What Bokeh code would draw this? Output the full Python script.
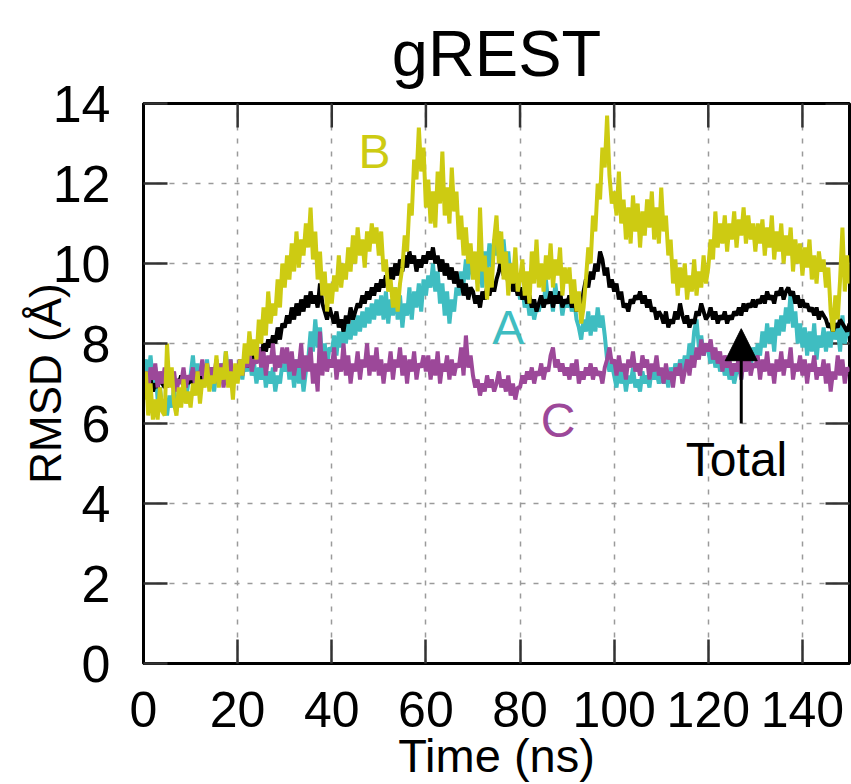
from bokeh.plotting import figure
from bokeh.models import Range1d, FixedTicker, Label, Arrow, NormalHead
from bokeh.embed import file_html
from bokeh.resources import INLINE

# time grid (ns), 0.5 ns sampling
time_ns = [i * 0.5 for i in range(301)]

x_ticks = [0, 20, 40, 60, 80, 100, 120, 140]
y_ticks = [0, 2, 4, 6, 8, 10, 12, 14]

# Chain B (yellow)
rmsd_B = (
    [6.6,7.3,6.2,7.0,6.1,6.6,6.1,6.9,6.3,6.2, 8.0,6.9,7.4,6.5,6.2,6.9,6.4,7.1,6.5,6.8] +
    [6.4,7.0,6.7,7.3,6.5,7.1,6.9,7.5,6.8,7.2, 7.0,7.7,6.9,7.4,7.1,7.8,6.9,7.3,6.6,7.5] +
    [7.0,7.6,7.2,8.0,7.5,8.3,7.7,8.1,7.6,8.6, 8.0,8.9,8.2,9.3,8.5,9.0,8.7,9.6,8.9,10.0] +
    [9.4,10.2,9.6,10.5,9.8,10.8,9.9,10.6,10.2,11.0, 10.4,11.4,10.1,10.8,9.6,10.3,9.2,9.8,8.8,9.5] +
    [9.0,9.7,9.3,10.2,9.4,10.0,9.6,10.4,9.8,10.7, 10.0,10.9,10.2,10.6,9.9,10.8,10.3,11.0,10.5,10.9] +
    [10.2,10.8,9.8,10.1,9.3,9.6,8.9,9.4,8.8,9.5, 9.9,10.7,10.3,11.5,11.2,12.6,12.1,13.4,12.3,12.9] +
    [11.4,12.1,11.0,11.8,10.9,12.3,11.5,12.8,11.2,11.9, 11.0,12.4,11.3,11.8,10.6,11.2,10.2,10.9,10.0,10.5] +
    [9.6,10.3,9.3,11.4,9.8,10.2,9.1,9.9,9.4,10.6, 11.2,10.0,10.8,9.6,10.3,9.2,10.0,9.5,10.4,9.3] +
    [9.6,10.1,9.2,9.8,9.0,10.3,9.5,10.6,9.4,10.0, 9.3,10.2,9.6,10.5,9.4,10.1,9.7,10.4,9.2,9.9] +
    [9.5,9.9,9.0,9.6,8.8,9.3,8.5,8.9,9.6,10.4, 10.0,11.2,10.8,12.0,11.6,12.9,12.4,13.7,12.2,11.5] +
    [11.8,11.2,12.3,11.0,11.6,10.6,11.4,10.5,11.7,10.8, 11.5,10.4,11.3,10.7,11.6,10.9,11.8,10.6,11.4,10.5] +
    [11.9,10.8,11.2,10.2,10.6,9.5,10.1,9.2,9.9,9.4, 10.0,9.1,9.7,9.3,10.1,9.2,9.8,9.4,10.2,9.5] +
    [9.9,10.6,10.1,11.3,10.4,11.0,10.5,11.2,10.3,11.0, 10.6,11.3,10.4,11.1,10.7,11.4,10.5,11.2,10.6,11.0] +
    [10.3,11.0,10.5,11.1,10.2,10.9,10.4,11.2,10.1,10.8, 10.3,11.0,10.0,10.7,10.2,10.9,9.8,10.6,10.0,10.5] +
    [9.7,10.4,9.9,10.6,9.6,10.2,9.5,10.3,9.8,10.1, 9.4,9.9,8.8,8.3,9.2,8.6,9.6,10.9,9.3,10.2, 9.5]
)

# Total (black)
rmsd_total = (
    [7.0,7.2,6.9,7.1,6.8,7.0,6.9,7.2,7.0,6.9, 7.1,7.0,7.2,6.9,7.1,7.0,7.2,6.9,7.1,7.0] +
    [7.1,7.0,7.2,7.1,7.3,7.0,7.2,7.1,7.3,7.2, 7.1,7.3,7.2,7.4,7.2,7.3,7.1,7.4,7.2,7.3] +
    [7.3,7.5,7.4,7.6,7.4,7.7,7.5,7.8,7.6,7.9, 7.7,8.0,7.8,8.1,7.9,8.2,8.0,8.4,8.1,8.5] +
    [8.4,8.7,8.5,8.9,8.6,9.0,8.7,9.1,8.8,9.2, 8.9,9.3,9.0,9.2,8.9,9.5,9.0,8.8,8.6,8.9] +
    [8.7,8.5,8.8,8.4,8.6,8.3,8.7,8.5,8.9,8.6, 8.8,9.0,8.9,9.2,9.0,9.3,9.1,9.4,9.2,9.5] +
    [9.3,9.6,9.4,9.7,9.5,9.9,9.6,10.0,9.7,10.1, 9.8,10.2,9.9,10.3,10.0,10.2,9.8,10.1,9.9,10.2] +
    [10.0,10.3,10.1,10.4,10.0,10.2,9.8,10.1,9.7,10.0, 9.6,9.9,9.5,9.8,9.4,9.6,9.2,9.5,9.1,9.4] +
    [9.3,9.0,9.2,8.9,9.3,9.1,9.4,9.2,9.5,9.3, 9.6,9.8,10.1,9.7,9.9,9.5,9.7,9.3,9.5,9.2] +
    [9.4,9.1,9.3,9.0,9.2,8.9,9.1,8.8,9.0,9.2, 8.9,9.1,9.0,9.3,8.9,9.2,9.0,9.3,8.9,9.1] +
    [9.0,9.2,8.9,9.1,8.8,9.0,8.9,9.3,9.6,9.4, 9.8,9.6,10.0,9.8,10.3,10.1,9.7,9.9,9.4,9.6] +
    [9.3,9.5,9.1,9.3,8.9,9.0,8.8,9.1,9.0,9.2, 9.1,9.3,9.0,9.2,8.9,9.1,8.8,8.9,8.6,8.8] +
    [8.7,8.5,8.8,8.4,8.6,8.5,8.8,8.6,9.0,8.7, 8.5,8.7,8.4,8.6,8.5,8.8,8.7,9.0,8.8,8.6] +
    [8.7,8.9,8.6,8.8,8.5,8.7,8.6,8.8,8.5,8.7, 8.6,8.8,8.7,8.9,8.7,9.0,8.8,9.0,8.9,9.1] +
    [8.9,9.1,9.0,9.2,9.0,9.3,9.1,9.2,9.0,9.3, 9.2,9.4,9.1,9.3,9.4,9.2,9.3,9.0,9.2,8.9] +
    [9.1,8.9,9.0,8.8,8.9,8.7,8.9,8.6,8.8,8.7, 8.6,8.4,8.5,8.3,8.5,8.4,8.6,8.5,8.4,8.3, 8.5]
)

# Chain A (cyan)
rmsd_A = (
    [7.3,7.6,7.2,7.7,7.0,7.4,6.6,6.9,6.3,6.6, 6.2,6.7,6.4,6.9,6.3,6.7,6.5,6.9,6.6,7.0] +
    [7.2,7.7,7.0,7.5,6.9,7.3,7.1,7.6,6.9,7.2, 6.8,7.3,7.0,7.5,7.2,7.8,7.1,7.6,7.0,7.4] +
    [7.2,7.5,7.1,7.6,7.3,7.7,7.2,7.5,7.0,7.4, 7.1,7.5,6.9,7.3,7.0,7.4,6.8,7.2,7.0,7.5] +
    [7.3,7.7,7.1,7.5,6.9,7.6,7.0,7.4,6.8,7.3, 7.6,8.3,7.8,8.6,7.9,8.4,7.5,8.0,7.4,7.9] +
    [7.8,8.2,7.7,8.3,7.9,8.4,8.0,8.5,8.1,8.6, 8.2,8.7,8.3,8.8,8.4,8.9,8.5,9.0,8.6,9.1] +
    [8.7,9.2,8.6,9.3,8.5,9.1,8.7,9.4,8.6,9.2, 8.4,9.0,8.7,9.4,8.6,9.3,8.9,9.5,8.8,9.6] +
    [9.2,9.7,9.4,10.0,9.3,9.8,9.0,9.5,8.7,9.3, 8.5,9.1,8.8,9.4,9.2,9.8,9.5,10.1,9.6,10.3] +
    [9.7,10.2,9.5,10.0,9.4,10.3,9.8,10.5,9.9,10.6, 10.2,10.8,10.4,10.6,9.9,10.3,9.6,9.9,9.3,9.6] +
    [9.1,9.4,8.9,9.2,8.7,9.0,8.6,8.9,8.8,9.2, 8.9,9.6,9.0,9.3,8.8,9.5,9.0,9.2,8.7,9.1] +
    [8.9,9.2,8.8,9.1,8.6,8.4,8.1,8.6,8.3,8.8, 8.2,8.7,8.3,8.9,8.4,8.7,8.2,7.6,7.3,7.5] +
    [7.2,6.9,7.4,7.0,7.3,6.8,7.2,7.0,7.4,6.9, 7.1,6.8,7.3,7.0,7.2,6.9,7.4,7.1,7.3,7.0] +
    [7.2,7.0,7.3,6.9,7.4,7.1,7.5,7.2,7.6,7.3, 7.7,7.4,8.0,7.6,8.3,8.6,7.9,8.2,7.7,8.0] +
    [7.8,7.5,7.9,7.4,7.7,7.3,7.6,7.2,7.5,7.1, 7.4,7.0,7.3,7.5,7.1,7.6,7.3,7.7,7.4,7.9] +
    [7.6,8.0,7.7,8.3,7.9,8.5,8.0,8.4,7.8,8.6, 8.2,8.7,8.3,8.9,8.5,9.3,8.4,8.8,8.0,8.5] +
    [7.9,8.4,7.7,8.3,7.8,8.5,7.6,8.2,7.9,8.4, 7.8,8.3,7.9,8.6,8.1,8.4,7.8,8.7,8.0,8.3, 8.2]
)

# Chain C (magenta)
rmsd_C = (
    [7.0,7.3,6.8,7.4,7.1,7.5,6.9,7.3,7.0,7.4, 6.9,7.2,7.0,7.3,6.8,7.1,7.0,7.4,6.9,7.2] +
    [7.1,7.4,6.9,7.3,7.2,7.6,7.0,7.5,7.1,7.4, 7.2,7.6,7.0,7.5,6.9,7.3,7.1,7.6,7.0,7.4] +
    [7.3,7.6,7.2,7.7,7.4,7.8,7.3,7.6,7.5,7.9, 7.4,7.8,7.2,7.7,7.5,8.0,7.3,7.7,7.4,7.9] +
    [7.5,7.9,7.3,7.8,7.2,7.6,7.4,8.0,7.1,7.7, 7.3,7.9,7.0,7.5,6.8,8.3,7.2,7.8,7.3,7.6] +
    [7.4,7.9,7.1,7.6,7.3,8.0,7.2,7.7,7.0,7.5, 7.3,7.8,7.1,7.6,7.4,8.0,7.2,7.7,7.3,7.9] +
    [7.2,7.6,7.0,7.5,7.3,7.8,7.1,7.6,7.4,7.9, 7.2,7.7,7.0,7.6,7.3,7.8,7.1,7.5,7.4,7.7] +
    [7.3,7.7,7.1,7.6,7.2,7.8,7.0,7.5,7.3,7.7, 7.1,7.6,7.2,7.5,7.4,7.9,7.2,8.2,7.4,7.7] +
    [7.2,6.9,7.1,6.7,7.0,6.8,7.2,6.9,7.1,6.8, 7.0,7.3,6.9,7.1,6.8,7.2,6.7,7.0,6.6,6.9] +
    [6.9,7.2,7.0,7.3,7.1,7.4,7.0,7.3,7.2,7.5, 7.1,7.4,7.3,7.7,7.9,7.4,7.6,7.3,7.5,7.2] +
    [7.4,7.1,7.5,7.2,7.6,7.0,7.3,7.1,7.4,7.2, 7.5,7.1,7.4,7.2,7.3,7.0,7.4,7.6,7.9,7.5] +
    [7.6,7.2,7.7,7.3,7.5,7.1,7.6,7.4,7.8,7.3, 7.5,7.2,7.7,7.4,7.6,7.1,7.5,7.3,7.7,7.2] +
    [7.4,7.0,7.5,7.1,7.3,6.9,7.4,7.2,7.5,7.0, 7.3,7.6,7.2,7.7,7.4,7.9,7.6,8.1,7.7,8.0] +
    [7.8,8.1,7.6,7.9,7.5,7.8,7.3,7.7,7.4,7.6, 7.2,7.5,7.3,7.7,7.1,7.6,7.3,7.8,7.2,7.5] +
    [7.4,7.7,7.1,7.6,7.3,7.8,7.2,7.5,7.0,7.6, 7.3,7.8,7.2,7.6,7.4,7.9,7.1,7.5,7.3,7.7] +
    [7.2,7.6,7.0,7.5,7.3,7.7,7.1,7.4,7.2,7.6, 7.0,7.5,6.8,7.3,7.1,7.7,7.2,7.6,7.0,7.4, 7.3]
)

for s in (rmsd_B, rmsd_total, rmsd_A, rmsd_C):
    assert len(s) == len(time_ns), len(s)

COL_A = "#3fbdc1"
COL_B = "#cdcb12"
COL_C = "#9c4899"
FONT = "Liberation Sans"

X0, X1, Y0, Y1 = 0, 150, 0, 14
FIG_W, FIG_H = 851, 784
B_LEFT, B_RIGHT, B_TOP, B_BOTTOM = 143, 2, 103, 119
FRAME_W = FIG_W - B_LEFT - B_RIGHT
FRAME_H = FIG_H - B_TOP - B_BOTTOM
TICK_PX = 24

p = figure(width=FIG_W, height=FIG_H, output_backend="svg", toolbar_location=None,
           x_range=Range1d(X0, X1), y_range=Range1d(Y0, Y1),
           min_border_left=B_LEFT, min_border_right=B_RIGHT, min_border_top=B_TOP,
           min_border_bottom=B_BOTTOM, background_fill_color="white",
           border_fill_color="white", title="gREST")
p.outline_line_color = "black"
p.outline_line_width = 3

p.title.align = "center"
p.title.vertical_align = "top"
p.title.text_font = FONT
p.title.text_font_size = "65px"
p.title.text_font_style = "normal"
p.title.text_color = "black"
p.title.standoff = 24


def style_axis(ax, ticks, standoff, size):
    ax.ticker = FixedTicker(ticks=ticks)
    ax.major_tick_in = TICK_PX
    ax.major_tick_out = 0
    ax.minor_tick_in = 0
    ax.minor_tick_out = 0
    ax.major_tick_line_width = 2.5
    ax.major_tick_line_color = "#333333"
    ax.axis_line_color = "black"
    ax.axis_line_width = 3
    ax.major_label_text_font = FONT
    ax.major_label_text_color = "black"
    ax.major_label_text_font_size = size
    ax.major_label_standoff = standoff
    ax.axis_label_text_font = FONT
    ax.axis_label_text_font_style = "normal"
    ax.axis_label_text_color = "black"


style_axis(p.xaxis[0], x_ticks, 28, "50px")
style_axis(p.yaxis[0], y_ticks, 33, "52px")
p.xaxis[0].axis_label = "Time (ns)"
p.xaxis[0].axis_label_text_font_size = "47px"
p.xaxis[0].axis_label_standoff = -1
p.yaxis[0].axis_label = "RMSD (Å)"
p.yaxis[0].axis_label_text_font_size = "44px"
p.yaxis[0].axis_label_standoff = -20

p.xgrid.ticker = FixedTicker(ticks=x_ticks)
p.ygrid.ticker = FixedTicker(ticks=y_ticks)
for g in (p.xgrid[0], p.ygrid[0]):
    g.grid_line_color = "#9a9a9a"
    g.grid_line_dash = "5 8"
    g.grid_line_width = 1.5

# mirrored inward ticks on the top and right frame edges
tick_dy = TICK_PX * (Y1 - Y0) / FRAME_H
tick_dx = TICK_PX * (X1 - X0) / FRAME_W
p.segment(x0=x_ticks, y0=[Y1] * len(x_ticks), x1=x_ticks, y1=[Y1 - tick_dy] * len(x_ticks),
          line_color="#333333", line_width=2.5)
p.segment(x0=[X1] * len(y_ticks), y0=y_ticks, x1=[X1 - tick_dx] * len(y_ticks), y1=y_ticks,
          line_color="#333333", line_width=2.5)

LW = 4
p.line(time_ns, rmsd_A, line_color=COL_A, line_width=LW)
p.line(time_ns, rmsd_total, line_color="black", line_width=LW)
p.line(time_ns, rmsd_C, line_color=COL_C, line_width=LW)
p.line(time_ns, rmsd_B, line_color=COL_B, line_width=LW)

# annotations (centre positions)
p.add_layout(Label(x=49.1, y=12.80, text="B", text_color=COL_B, text_font=FONT,
                   text_font_size="48px", text_align="center", text_baseline="middle"))
p.add_layout(Label(x=77.5, y=8.41, text="A", text_color=COL_A, text_font=FONT,
                   text_font_size="48px", text_align="center", text_baseline="middle"))
p.add_layout(Label(x=88.1, y=6.07, text="C", text_color=COL_C, text_font=FONT,
                   text_font_size="48px", text_align="center", text_baseline="middle"))
p.add_layout(Label(x=126.0, y=5.09, text="Total", text_color="black", text_font=FONT,
                   text_font_size="48px", text_align="center", text_baseline="middle"))
p.add_layout(Arrow(x_start=127, y_start=6.0, x_end=127, y_end=8.37, line_width=3,
                   line_color="black",
                   end=NormalHead(size=32, fill_color="black", line_color="black")))

open("out.html", "w").write(file_html(p, INLINE))
